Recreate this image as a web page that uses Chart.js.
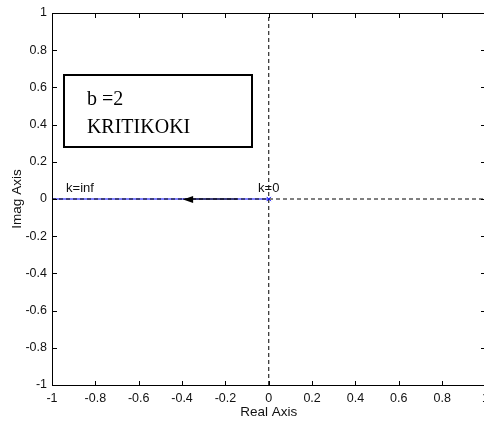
<!DOCTYPE html>
<html><head><meta charset="utf-8">
<script src="https://cdn.jsdelivr.net/npm/chart.js@4.4.1/dist/chart.umd.min.js"></script>
<style>
html,body{margin:0;padding:0;background:#fff;overflow:hidden;width:484px;height:428px}
#wrap{position:relative;width:500px;height:428px}
canvas{display:block}
</style></head><body><div id="wrap"><canvas id="c" width="500" height="428"></canvas></div>
<script>
// ---- data ----
const xTickValues = [-1,-0.8,-0.6,-0.4,-0.2,0,0.2,0.4,0.6,0.8,1];
const xTickLabels = ['-1','-0.8','-0.6','-0.4','-0.2','0','0.2','0.4','0.6','0.8','1'];
const yTickValues = [-1,-0.8,-0.6,-0.4,-0.2,0,0.2,0.4,0.6,0.8,1];
const yTickLabels = ['-1','-0.8','-0.6','-0.4','-0.2','0','0.2','0.4','0.6','0.8','1'];
const locusX = [-1.1, 0];          // root locus branch (k from 0 to inf)
const locusY = [0, 0];
const arrowX = [-0.395, -0.145];   // direction arrow along the locus
const arrowY = [0, 0];
const poleX = [0];                 // open-loop pole (k=0)
const poleY = [0];
const hAxisX = [-1, 1], hAxisY = [0, 0];
const vAxisX = [0, 0], vAxisY = [-1, 1];
const gainLabels = ['k=inf', 'k=0'];
const gainLabelX = [-0.935, 0];
const gainLabelY = [0.039, 0.039];
const boxLines = ['b =2', 'KRITIKOKI'];

const pts = (xs, ys) => xs.map((v, i) => ({x: v, y: ys[i]}));
const SANS = '"Liberation Sans", Arial, Helvetica, sans-serif';

function drawFrame(chart) {
  const {ctx, chartArea: a, scales} = chart;
  const sx = scales.x, sy = scales.y;
  ctx.save();
  ctx.setLineDash([]);
  ctx.strokeStyle = '#000';
  ctx.lineWidth = 1;
  ctx.strokeRect(a.left + 0.5, a.top + 0.5, a.right - a.left, a.bottom - a.top);
  ctx.fillStyle = '#000';
  const L = Math.round(a.left), R = Math.round(a.right), T = Math.round(a.top), B = Math.round(a.bottom);
  xTickValues.forEach(v => {
    const px = Math.round(sx.getPixelForValue(v));
    ctx.fillRect(px, B - 4, 1, 5);
    ctx.fillRect(px, T, 1, 5);
  });
  yTickValues.forEach(v => {
    const py = Math.round(sy.getPixelForValue(v));
    ctx.fillRect(L, py, 5, 1);
    ctx.fillRect(R - 5, py, 5, 1);
  });
  ctx.restore();
}

const decor = {
  id: 'decor',
  afterDatasetsDraw(chart) {
    const {ctx, scales} = chart;
    const x = scales.x, y = scales.y;
    ctx.save();
    const tx = x.getPixelForValue(arrowX[0]), ty = y.getPixelForValue(arrowY[0]) + 0.5;
    ctx.fillStyle = '#000';
    ctx.beginPath();
    ctx.moveTo(tx, ty);
    ctx.lineTo(tx + 10, ty - 3.5);
    ctx.lineTo(tx + 10, ty + 3.5);
    ctx.closePath();
    ctx.fill();
    ctx.font = '13px ' + SANS;
    ctx.fillStyle = '#111';
    ctx.textBaseline = 'alphabetic';
    gainLabels.forEach((t, i) => {
      ctx.textAlign = i === 0 ? 'left' : 'center';
      ctx.fillText(t, x.getPixelForValue(gainLabelX[i]), y.getPixelForValue(gainLabelY[i]));
    });
    const bx0 = x.getPixelForValue(-0.945), bx1 = x.getPixelForValue(-0.076);
    const by0 = y.getPixelForValue(0.667), by1 = y.getPixelForValue(0.28);
    ctx.fillStyle = '#fff';
    ctx.fillRect(bx0, by0, bx1 - bx0, by1 - by0);
    ctx.strokeStyle = '#000';
    ctx.lineWidth = 2;
    ctx.strokeRect(Math.round(bx0), Math.round(by0), Math.round(bx1 - bx0), Math.round(by1 - by0));
    ctx.fillStyle = '#000';
    ctx.font = '20px "Liberation Serif", "Times New Roman", serif';
    ctx.textAlign = 'left';
    ctx.fillText(boxLines[0], bx0 + 23, by0 + 30);
    ctx.fillText(boxLines[1], bx0 + 23, by0 + 58);
    ctx.restore();
    drawFrame(chart);
  }
};

new Chart(document.getElementById('c'), {
  type: 'scatter',
  data: {
    datasets: [
      {data: pts(arrowX, arrowY), showLine: true, borderColor: '#000', borderWidth: 1, pointRadius: 0, order: 0},
      {data: pts(poleX, poleY), showLine: false, pointStyle: 'crossRot', pointRadius: 3, borderColor: '#0000ff', borderWidth: 1, order: 0},
      {data: pts(hAxisX, hAxisY), showLine: true, borderColor: '#000', borderWidth: 1, borderDash: [4, 3], pointRadius: 0, order: 1},
      {data: pts(vAxisX, vAxisY), showLine: true, borderColor: '#000', borderWidth: 1, borderDash: [4, 3], pointRadius: 0, order: 1},
      {data: pts(locusX, locusY), showLine: true, borderColor: '#0000ff', borderWidth: 1, pointRadius: 0, order: 2}
    ]
  },
  options: {
    responsive: false,
    animation: false,
    devicePixelRatio: 1,
    layout: {padding: {top: 13, right: 14.5, left: 0, bottom: 0}},
    plugins: {legend: {display: false}, tooltip: {enabled: false}},
    scales: {
      x: {
        type: 'linear', min: -1, max: 1, position: 'bottom',
        grid: {display: false, drawTicks: false}, border: {display: false},
        afterBuildTicks: s => { s.ticks = xTickValues.map(v => ({value: v})); },
        afterFit: s => { s.height = 43; },
        ticks: {color: '#111', font: {family: SANS, size: 12.5}, padding: 6, maxRotation: 0, autoSkip: false,
                callback: (v, i) => xTickLabels[i]},
        title: {display: true, text: 'Real Axis', color: '#111', font: {family: SANS, size: 13.5}, padding: {top: 8, bottom: 8}}
      },
      y: {
        type: 'linear', min: -1, max: 1, position: 'left',
        grid: {display: false, drawTicks: false}, border: {display: false},
        afterBuildTicks: s => { s.ticks = yTickValues.map(v => ({value: v})); },
        afterFit: s => { s.width = 52; },
        ticks: {color: '#111', font: {family: SANS, size: 12.5}, padding: 5, autoSkip: false,
                callback: (v, i) => yTickLabels[i]},
        title: {display: true, text: 'Imag Axis', color: '#111', font: {family: SANS, size: 13.5}, padding: {top: 9, bottom: 9}}
      }
    }
  },
  plugins: [decor]
});
</script></body></html>
